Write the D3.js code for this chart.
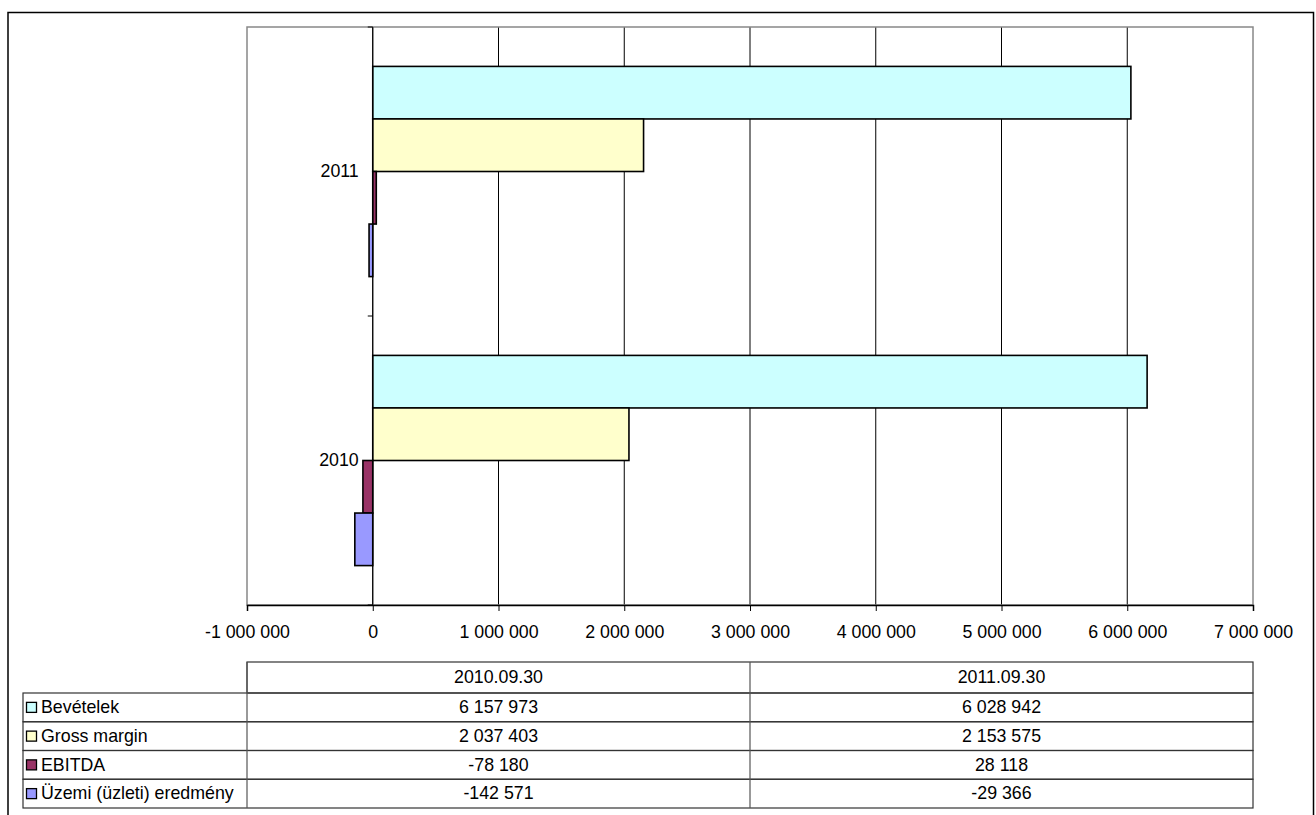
<!DOCTYPE html>
<html><head><meta charset="utf-8">
<script src="https://cdn.jsdelivr.net/npm/d3@7"></script>
<style>
html,body{margin:0;padding:0;background:#fff;}
svg{display:block;font-family:"Liberation Sans",Arial,sans-serif;}
</style></head>
<body><svg id="c" width="1316" height="815"></svg>
<script>
const categories = ["2011", "2010"];           // top to bottom in the chart
const tableColumns = ["2010.09.30", "2011.09.30"];
const seriesNames = ["Bevételek", "Gross margin", "EBITDA", "Üzemi (üzleti) eredmény"];
const seriesColors = ["#CCFFFF", "#FFFFCC", "#993366", "#9999FF"];
const values2010 = [6157973, 2037403, -78180, -142571];
const values2011 = [6028942, 2153575, 28118, -29366];
const tickValues = [-1000000, 0, 1000000, 2000000, 3000000, 4000000, 5000000, 6000000, 7000000];

const valuesByCat = {"2010": values2010, "2011": values2011};
const fmt = v => d3.format(",")(v).replace(/,/g, " ").replace("−","-");

const svg = d3.select("#c");
const FS = 17.8;
const L = 247, R = 1253, T = 27, B = 605;

// outer border
svg.append("rect").attr("x", 8).attr("y", 12.5).attr("width", 1305.5).attr("height", 840)
  .attr("fill", "#fff").attr("stroke", "#000").attr("stroke-width", 1.5);

const x = d3.scaleLinear().domain([-1000000, 7000000]).range([L, R]);
const y = d3.scaleBand().domain(categories).range([T, B]);
const inner = d3.scaleBand().domain(seriesNames).range([0, y.bandwidth()]).paddingInner(0).paddingOuter(0.75);

// gridlines
svg.append("g").selectAll("line").data(tickValues.filter(v => v > -1000000 && v < 7000000))
  .join("line").attr("x1", d => x(d)).attr("x2", d => x(d)).attr("y1", T).attr("y2", B)
  .attr("stroke", "#000").attr("stroke-width", 1);

// plot area border
svg.append("rect").attr("x", L).attr("y", T).attr("width", R - L).attr("height", B - T)
  .attr("fill", "none").attr("stroke", "#888").attr("stroke-width", 1.5);

// bars
categories.forEach(cat => {
  const g = svg.append("g");
  g.selectAll("rect").data(seriesNames.map((s, i) => ({s, i, v: valuesByCat[cat][i]})))
    .join("rect")
    .attr("x", d => x(Math.min(0, d.v)))
    .attr("width", d => Math.abs(x(d.v) - x(0)))
    .attr("y", d => y(cat) + inner(d.s))
    .attr("height", inner.bandwidth())
    .attr("fill", d => seriesColors[d.i])
    .attr("stroke", "#000").attr("stroke-width", 1.6);
});

// y axis at zero
const yAxisG = svg.append("g").attr("transform", `translate(${x(0)},0)`);
yAxisG.append("line").attr("x1", 0).attr("x2", 0).attr("y1", T).attr("y2", B).attr("stroke", "#000").attr("stroke-width", 1);
const bounds = [T].concat(categories.map(c => y(c) + y.bandwidth()));
yAxisG.selectAll("line.tk").data(bounds).join("line").attr("class", "tk")
  .attr("x1", -5).attr("x2", 0).attr("y1", d => d).attr("y2", d => d).attr("stroke", "#000");
yAxisG.selectAll("text").data(categories).join("text")
  .attr("x", -14).attr("y", d => y(d) + y.bandwidth() / 2 + 1)
  .attr("text-anchor", "end").attr("dominant-baseline", "middle")
  .attr("font-size", FS).attr("fill", "#000").text(d => d);

// x axis
const xAxis = d3.axisBottom(x).tickValues(tickValues).tickSize(6).tickPadding(14).tickFormat(fmt);
const xg = svg.append("g").attr("transform", `translate(0,${B})`).call(xAxis);
xg.select(".domain").attr("stroke", "#000").attr("stroke-width", 1.5);
xg.selectAll(".tick line").attr("stroke", "#000");
xg.selectAll(".tick text").attr("font-size", FS).attr("font-family", '"Liberation Sans",Arial,sans-serif').attr("fill", "#000");

// data table
const tL = 23, tColX = L, tR = R;
const colX = d3.scaleBand().domain(tableColumns).range([tColX, tR]);
const headTop = 662;
const rowY = d3.scaleBand().domain(seriesNames).range([693, 808]);
const tg = svg.append("g");
// header row
tg.append("rect").attr("x", tColX).attr("y", headTop).attr("width", tR - tColX).attr("height", 693 - headTop)
  .attr("fill", "none").attr("stroke", "#333").attr("stroke-width", 1.2);
tg.selectAll("text.h").data(tableColumns).join("text").attr("class", "h")
  .attr("x", d => colX(d) + colX.bandwidth() / 2).attr("y", (headTop + 693) / 2 + 1)
  .attr("text-anchor", "middle").attr("dominant-baseline", "middle").attr("font-size", FS).text(d => d);
// rows
tg.selectAll("rect.r").data(seriesNames).join("rect").attr("class", "r")
  .attr("x", tL).attr("y", d => rowY(d)).attr("width", tR - tL).attr("height", rowY.bandwidth())
  .attr("fill", "none").attr("stroke", "#333").attr("stroke-width", 1.2);
// vertical dividers
tg.selectAll("line.v").data(tableColumns).join("line").attr("class", "v")
  .attr("x1", d => colX(d)).attr("x2", d => colX(d)).attr("y1", headTop).attr("y2", 808)
  .attr("stroke", "#555").attr("stroke-width", 1.2);
// legend keys
tg.selectAll("rect.k").data(seriesNames).join("rect").attr("class", "k")
  .attr("x", 26.5).attr("y", d => rowY(d) + rowY.bandwidth() / 2 - 5)
  .attr("width", 10).attr("height", 10)
  .attr("fill", (d, i) => seriesColors[i]).attr("stroke", "#000").attr("stroke-width", 1.3);
tg.selectAll("text.n").data(seriesNames).join("text").attr("class", "n")
  .attr("x", 41).attr("y", d => rowY(d) + rowY.bandwidth() / 2 + 1)
  .attr("dominant-baseline", "middle").attr("font-size", FS).text(d => d);
// values
tableColumns.forEach((col, ci) => {
  const vals = ci === 0 ? values2010 : values2011;
  tg.selectAll(null).data(seriesNames).join("text")
    .attr("x", colX(col) + colX.bandwidth() / 2).attr("y", d => rowY(d) + rowY.bandwidth() / 2 + 1)
    .attr("text-anchor", "middle").attr("dominant-baseline", "middle").attr("font-size", FS)
    .text((d, i) => fmt(vals[i]));
});
</script></body></html>
